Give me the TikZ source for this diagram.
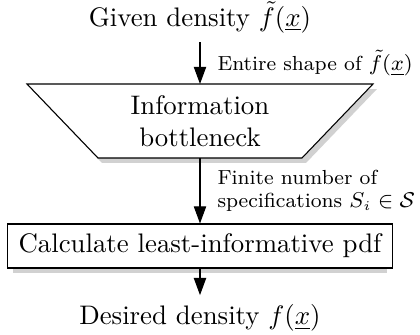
\documentclass[tikz,border=0pt]{standalone}
\usetikzlibrary{arrows.meta}
\begin{document}
\begin{tikzpicture}[x=0.373pt,y=-0.373pt,
  flow/.style={-{Triangle[width=4.6pt,length=6.4pt]}, line width=0.4pt},
  lbl/.style={font=\fontsize{7.6}{8.4}\selectfont, anchor=west, align=left, inner sep=0pt},
  shadowfill/.style={fill=black!18, draw=none},
  boxline/.style={draw=black, line width=0.4pt, fill=white}]
\useasboundingbox (0,0) rectangle (420,335);
% input and output texts
\node (given) at (200,17) {Given density $\tilde f(\underline{x})$};
\node (desired) at (200,318) {Desired density $f(\underline{x})$};
% bottleneck trapezoid with its shadow
\fill[shadowfill] (31,89) -- (377,89) -- (306,163) -- (102,163) -- cycle;
\draw[boxline] (27,84) -- (373,84) -- (302,158) -- (98,158) -- cycle;
\node[align=center] (bn) at (200,121) {Information\\bottleneck};
\coordinate (bnTop) at (200,84);
\coordinate (bnBot) at (200,158);
% calculation box with its shadow
\fill[shadowfill] (13,228) rectangle (387,273);
\node[boxline, minimum width=143.6pt, minimum height=16.4pt] (calc) at (200,246)
  {Calculate least-informative pdf};
% connectors
\draw[flow] (given) -- (bnTop);
\draw[flow] (bnBot) -- (calc);
\draw[flow] (calc) -- (desired);
% connector labels
\node[lbl] (l1) at (217,63) {Entire shape of $\tilde f(\underline{x})$};
\node[lbl] (l2) at (217,191) {Finite number of\\specifications $S_i\in\mathcal{S}$};
\end{tikzpicture}
\end{document}
